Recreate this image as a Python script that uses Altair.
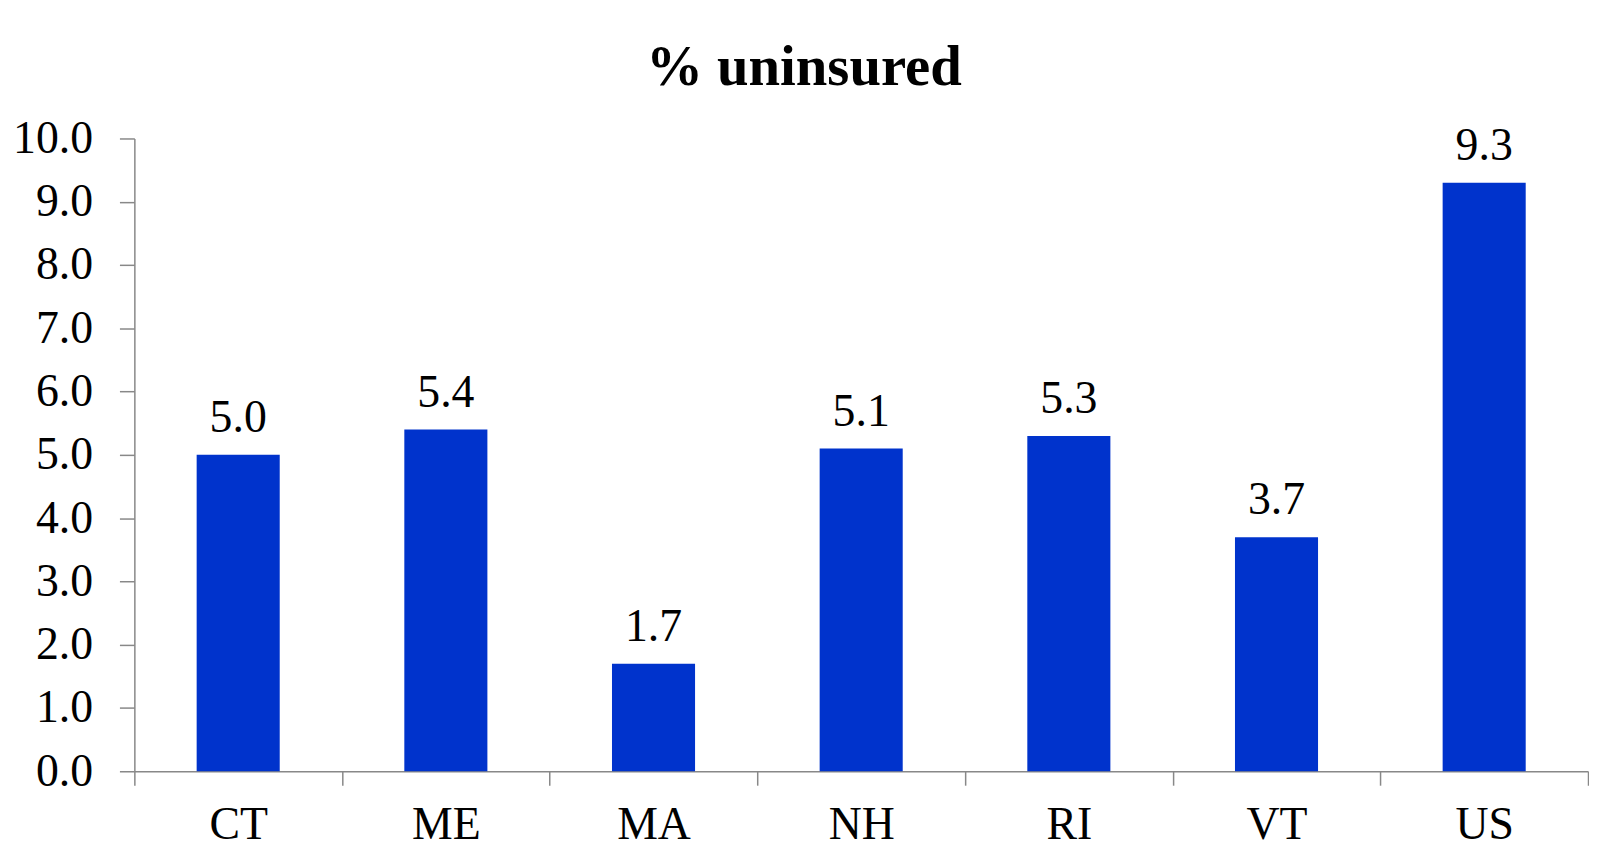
import altair as alt
import pandas as pd

states = ["CT", "ME", "MA", "NH", "RI", "VT", "US"]
uninsured = [5.0, 5.4, 1.7, 5.1, 5.3, 3.7, 9.3]
title_text = "% uninsured"

df = pd.DataFrame({"state": states, "value": uninsured})

FONT = "Liberation Serif"
W, H = 1461, 636

x = alt.X(
    "state:N",
    sort=states,
    scale=alt.Scale(paddingInner=0, paddingOuter=0),
    axis=alt.Axis(
        title=None,
        labelAngle=0,
        labelFont=FONT,
        labelFontSize=46,
        labelColor="black",
        labelPadding=18,
        tickBand="extent",
        tickSize=14,
        tickColor="#888888",
        domainColor="#888888",
        tickWidth=1.5,
        domainWidth=1.5,
    ),
)
y = alt.Y(
    "value:Q",
    scale=alt.Scale(domain=[0, 10], nice=False),
    axis=alt.Axis(
        title=None,
        values=list(range(0, 11)),
        format=".1f",
        labelFont=FONT,
        labelFontSize=46,
        labelColor="black",
        labelPadding=27,
        tickSize=15,
        tickColor="#888888",
        domainColor="#888888",
        tickWidth=1.5,
        domainWidth=1.5,
        grid=False,
    ),
)

base = alt.Chart(df)
bars = base.mark_bar(color="#0033CC", width=alt.RelativeBandSize(0.4)).encode(x=x, y=y)
labels = base.mark_text(
    font=FONT, fontSize=46, color="black", baseline="alphabetic", dy=-23
).encode(x=alt.X("state:N", sort=states), y="value:Q", text=alt.Text("value:Q", format=".1f"))

title = alt.Chart(pd.DataFrame({"t": [title_text]})).mark_text(
    font=FONT, fontSize=57, fontWeight="bold", color="black",
    baseline="alphabetic", align="center"
).encode(x=alt.value(673), y=alt.value(-54), text="t:N")

chart = alt.layer(bars, labels, title).properties(
    width=W, height=H,
    background="white",
    autosize=alt.AutoSizeParams(type="none"),
    padding={"left": 127, "top": 129, "right": 1, "bottom": 78},
).configure_view(stroke=None)

chart.save("out.html", embed_options={"renderer": "svg", "actions": False})
